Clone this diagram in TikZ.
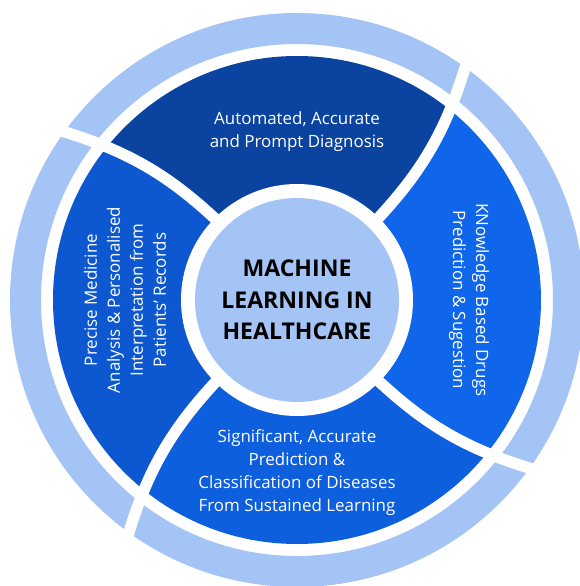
\documentclass[tikz,border=0pt]{standalone}
\usepackage{fontspec}
\setmainfont{Open Sans}
\usepackage{tikz}
\definecolor{ringblue}{RGB}{163,196,245}
\definecolor{topblue}{RGB}{10,68,160}
\definecolor{leftblue}{RGB}{13,88,208}
\definecolor{rightblue}{RGB}{16,102,234}
\definecolor{bottomblue}{RGB}{14,95,222}

\begin{document}
\begin{tikzpicture}[x=0.75pt,y=0.75pt]
    \tikzstyle{segtext} = [text=white, align=center, font=\fontsize{12.7}{17.25}\selectfont]
    \tikzstyle{hub} = [circle, fill=ringblue, minimum size=153pt, inner sep=0pt, align=center, font=\fontsize{17.3}{23.5}\selectfont\bfseries]
    \tikzstyle{sep} = [draw=white, line width=8.5pt]
    \useasboundingbox (-297,-286) rectangle (283,300);
    \coordinate (s1-in) at (45:100);
    \coordinate (s1-out) at (55:300);
    \coordinate (s2-in) at (135:100);
    \coordinate (s2-out) at (145:300);
    \coordinate (s3-in) at (225:100);
    \coordinate (s3-out) at (235:300);
    \coordinate (s4-in) at (-45:100);
    \coordinate (s4-out) at (-35:300);
    \coordinate (top-far) at (100:420);
    \coordinate (left-far) at (190:420);
    \coordinate (bottom-far) at (280:420);
    \coordinate (right-far) at (10:420);
    \fill[ringblue, even odd rule] (0,0) circle (287) (0,0) circle (256);
    \begin{scope}
        \clip (0,0) circle (244);
        \fill[topblue] (s1-in) to[bend right=14] (s1-out) -- (top-far) -- (s2-out) to[bend left=14] (s2-in) -- (0,0) -- cycle;
        \fill[leftblue] (s2-in) to[bend right=14] (s2-out) -- (left-far) -- (s3-out) to[bend left=14] (s3-in) -- (0,0) -- cycle;
        \fill[bottomblue] (s3-in) to[bend right=14] (s3-out) -- (bottom-far) -- (s4-out) to[bend left=14] (s4-in) -- (0,0) -- cycle;
        \fill[rightblue] (s4-in) to[bend right=14] (s4-out) -- (right-far) -- (s1-out) to[bend left=14] (s1-in) -- (0,0) -- cycle;
    \end{scope}
    \draw[sep] (s1-in) to[bend right=14] (s1-out);
    \draw[sep] (s2-in) to[bend right=14] (s2-out);
    \draw[sep] (s3-in) to[bend right=14] (s3-out);
    \draw[sep] (s4-in) to[bend right=14] (s4-out);
    \fill[white] (0,0) circle (116);
    \node[hub] (ml) at (0,0) {MACHINE\\LEARNING IN\\HEALTHCARE};
    \node[segtext] (diagnosis) at (0,168) {Automated, Accurate\\and Prompt Diagnosis};
    \node[segtext, rotate=-90] (drugs) at (172,0) {KNowledge Based Drugs\\Prediction \& Sugestion};
    \node[segtext] (diseases) at (0,-173) {Significant, Accurate\\Prediction \&\\Classification of Diseases\\From Sustained Learning};
    \node[segtext, rotate=90] (medicine) at (-172,0) {Precise Medicine\\Analysis \& Personalised\\Interpretation from\\Patients’ Records};
\end{tikzpicture}
\end{document}
